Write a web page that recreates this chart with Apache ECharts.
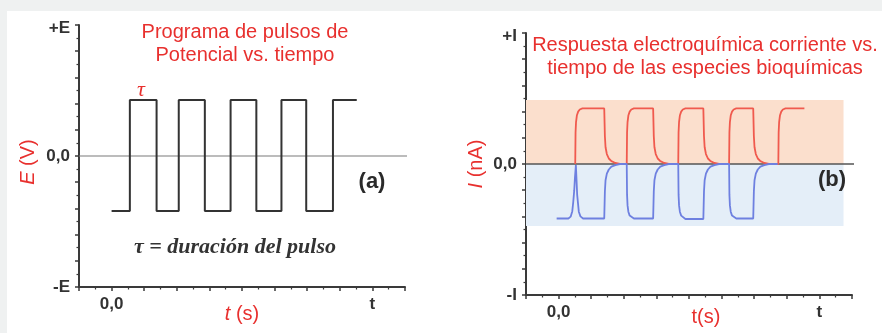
<!DOCTYPE html>
<html>
<head>
<meta charset="utf-8">
<script src="https://cdn.jsdelivr.net/npm/echarts@6/dist/echarts.min.js"></script>
<style>
html, body { margin: 0; padding: 0; background: #eff1f1; }
#chart { width: 882px; height: 333px; }
</style>
</head>
<body>
<div id="chart"></div>
<script>
// ejes
var eTickVals = [5, 0, -5];
var eTickText = ['+E', '0,0', '-E'];
var iTickVals = [5, 0, -5];
var iTickText = ['+I', '0,0', '-I'];
var tTickVals = [0, 8];
var tTickText = ['0,0', 't'];

// (a) pulsos de potencial
var pulseWave = [
    [0, -2.1], [0.56, -2.1], [0.56, 2.14], [1.38, 2.14], [1.38, -2.1], [2.06, -2.1],
    [2.06, 2.14], [2.86, 2.14], [2.86, -2.1], [3.65, -2.1], [3.65, 2.14], [4.44, 2.14],
    [4.44, -2.1], [5.21, -2.1], [5.21, 2.14], [5.97, 2.14], [5.97, -2.1], [6.79, -2.1],
    [6.79, 2.14], [7.52, 2.14]
];
var zeroLineA = [[-1, 0], [9.15, 0]];

// (b) respuesta corriente
var redResponse = [
    [0.51, 0], [0.52, 1.2], [0.535, 1.6], [0.56, 1.85], [0.6, 2.0], [0.65, 2.08], [0.73, 2.12],
    [1.40, 2.12], [1.42, 1.06], [1.44, 0.64], [1.48, 0.38], [1.54, 0.21], [1.62, 0.11], [1.74, 0.04], [1.88, 0],
    [2.09, 0], [2.10, 1.2], [2.115, 1.6], [2.14, 1.85], [2.18, 2.0], [2.23, 2.08], [2.31, 2.12],
    [2.90, 2.12], [2.92, 1.06], [2.94, 0.64], [2.98, 0.38], [3.04, 0.21], [3.12, 0.11], [3.24, 0.04], [3.38, 0],
    [3.67, 0], [3.68, 1.2], [3.695, 1.6], [3.72, 1.85], [3.76, 2.0], [3.81, 2.08], [3.89, 2.12],
    [4.44, 2.12], [4.46, 1.06], [4.48, 0.64], [4.52, 0.38], [4.58, 0.21], [4.66, 0.11], [4.78, 0.04], [4.92, 0],
    [5.23, 0], [5.24, 1.2], [5.255, 1.6], [5.28, 1.85], [5.32, 2.0], [5.37, 2.08], [5.45, 2.12],
    [5.97, 2.12], [5.99, 1.06], [6.01, 0.64], [6.05, 0.38], [6.11, 0.21], [6.19, 0.11], [6.31, 0.04], [6.45, 0],
    [6.74, 0], [6.75, 1.2], [6.765, 1.6], [6.79, 1.85], [6.83, 2.0], [6.88, 2.08], [6.96, 2.12],
    [7.54, 2.12]
];
var blueResponse = [
    [-0.06, -2.08], [0.30, -2.08], [0.37, -2.01], [0.42, -1.8], [0.45, -1.44], [0.48, -1.0],
    [0.50, -0.55], [0.53, -0.04], [0.55, -0.6], [0.57, -1.18], [0.62, -1.82], [0.67, -2.0], [0.75, -2.08],
    [1.40, -2.08], [1.42, -1.04], [1.44, -0.62], [1.48, -0.37], [1.54, -0.21], [1.62, -0.1], [1.74, -0.04], [1.88, 0],
    [2.09, 0], [2.10, -1.18], [2.115, -1.58], [2.14, -1.82], [2.18, -1.97], [2.23, -2.04], [2.31, -2.08],
    [2.90, -2.08], [2.92, -1.04], [2.94, -0.62], [2.98, -0.37], [3.04, -0.21], [3.12, -0.1], [3.24, -0.04], [3.38, 0],
    [3.67, 0], [3.68, -1.18], [3.695, -1.58], [3.72, -1.82], [3.76, -1.97], [3.81, -2.04], [3.89, -2.1],
    [4.44, -2.1], [4.46, -1.04], [4.48, -0.62], [4.52, -0.37], [4.58, -0.21], [4.66, -0.1], [4.78, -0.04], [4.92, 0],
    [5.23, 0], [5.24, -1.18], [5.255, -1.58], [5.28, -1.82], [5.32, -1.97], [5.37, -2.04], [5.45, -2.08],
    [5.97, -2.08], [5.99, -1.04], [6.01, -0.62], [6.05, -0.37], [6.11, -0.21], [6.19, -0.1], [6.31, -0.04], [6.45, 0],
    [6.72, 0]
];
var zeroLineB = [[-1, 0], [9.1, 0]];
var bandEnd = 8.74;
var bandTop = 2.44;
var bandBottom = -2.37;

var RED = '#e8302e';
var AXIS = '#3a3a3a';
var sans = 'Liberation Sans, Arial, sans-serif';
var serif = 'Liberation Serif, Times New Roman, serif';

function pick(vals, texts, topVal) {
    return function (v) {
        var k = vals.indexOf(v);
        if (k < 0) return '';
        return v === topVal ? '{top|' + texts[k] + '}' : texts[k];
    };
}

function axisBase(min, max, vals, texts, topVal, margin) {
    return {
        type: 'value',
        min: min,
        max: max,
        interval: 1,
        nameMoveOverlap: false,
        axisLine: { show: true, onZero: false, lineStyle: { color: AXIS, width: 2 } },
        axisTick: { show: true, length: 4, lineStyle: { color: AXIS, width: 1.5 } },
        minorTick: { show: true, splitNumber: 2, length: 2.5, lineStyle: { color: AXIS, width: 1.2 } },
        splitLine: { show: false },
        axisLabel: {
            formatter: pick(vals, texts, topVal),
            color: '#333',
            fontFamily: sans,
            fontWeight: 'bold',
            fontSize: 17,
            margin: margin,
            rich: { top: { color: '#333', fontFamily: sans, fontWeight: 'bold', fontSize: 17, padding: [7, 0, 0, 0] } }
        }
    };
}

var xA = axisBase(-1, 9, tTickVals, tTickText, null, 9);
xA.gridIndex = 0;
xA.name = '{i|t} (s)';
xA.nameLocation = 'middle';
xA.nameGap = 17;
xA.nameTextStyle = { color: RED, fontFamily: sans, fontSize: 20, rich: { i: { fontStyle: 'italic', color: RED, fontFamily: sans, fontSize: 20 } } };

var xB = axisBase(-1, 9, tTickVals, tTickText, null, 9);
xB.gridIndex = 1;
xB.name = 't(s)';
xB.nameLocation = 'middle';
xB.nameGap = 12;
xB.nameTextStyle = { color: RED, fontFamily: sans, fontSize: 20, padding: [0, 0, 0, 34] };

var yA = axisBase(-5, 5, eTickVals, eTickText, 5, 9);
yA.gridIndex = 0;
yA.name = '{i|E} (V)';
yA.nameLocation = 'middle';
yA.nameGap = 41;
yA.nameTextStyle = { color: RED, fontFamily: sans, fontSize: 20, padding: [0, 12, 0, 0], rich: { i: { fontStyle: 'italic', color: RED, fontFamily: sans, fontSize: 20 } } };

var yB = axisBase(-5, 5, iTickVals, iTickText, 5, 9);
yB.gridIndex = 1;
yB.name = '{i|I} (nA)';
yB.nameLocation = 'middle';
yB.nameGap = 40;
yB.nameTextStyle = { color: RED, fontFamily: sans, fontSize: 20, rich: { i: { fontStyle: 'italic', color: RED, fontFamily: sans, fontSize: 20 } } };

var myChart = echarts.init(document.getElementById('chart'), null, { renderer: 'canvas' });
var option = {
    backgroundColor: '#eff1f1',
    animation: false,
    grid: [
        { left: 79, right: 477, top: 25, bottom: 46, outerBoundsMode: 'none' },
        { left: 526, right: 30, top: 33, bottom: 38, outerBoundsMode: 'none' }
    ],
    xAxis: [xA, xB],
    yAxis: [yA, yB],
    graphic: [
        { type: 'rect', z: -10, silent: true, shape: { x: 7, y: 11, width: 875, height: 322 }, style: { fill: '#ffffff' } },
        { type: 'text', z: 100, x: 245, y: 44, style: { text: 'Programa de pulsos de\nPotencial vs. tiempo', font: '20px ' + sans, fill: RED, align: 'center', verticalAlign: 'middle', lineHeight: 23 } },
        { type: 'text', z: 100, x: 705, y: 57, style: { text: 'Respuesta electroquímica corriente vs.\ntiempo de las especies bioquímicas', font: '20px ' + sans, fill: RED, align: 'center', verticalAlign: 'middle', lineHeight: 23 } },
        { type: 'text', z: 100, x: 141, y: 90, style: { text: 'τ', font: 'italic 22px ' + serif, fill: RED, align: 'center', verticalAlign: 'middle' } },
        { type: 'text', z: 100, x: 235, y: 247, style: { text: 'τ = duración del pulso', font: 'italic bold 22px ' + serif, fill: '#333', align: 'center', verticalAlign: 'middle' } },
        { type: 'text', z: 100, x: 372, y: 182, style: { text: '(a)', font: 'bold 22px ' + sans, fill: '#2a2a2a', align: 'center', verticalAlign: 'middle' } },
        { type: 'text', z: 100, x: 832, y: 180, style: { text: '(b)', font: 'bold 22px ' + sans, fill: '#2a2a2a', align: 'center', verticalAlign: 'middle' } }
    ],
    series: [
        {
            type: 'line', xAxisIndex: 0, yAxisIndex: 0, data: zeroLineA, symbol: 'none', silent: true, clip: false,
            lineStyle: { color: '#7a7a7a', width: 1.2 }
        },
        {
            type: 'line', xAxisIndex: 0, yAxisIndex: 0, data: pulseWave, symbol: 'none', silent: true,
            lineStyle: { color: '#333', width: 2 }
        },
        {
            type: 'line', xAxisIndex: 1, yAxisIndex: 1, data: zeroLineB, symbol: 'none', silent: true, clip: false,
            lineStyle: { color: '#555', width: 1.6 },
            markArea: {
                silent: true,
                data: [
                    [{ coord: [-1, bandTop], itemStyle: { color: '#fbdfcd' } }, { coord: [bandEnd, 0] }],
                    [{ coord: [-1, 0], itemStyle: { color: '#e4eef8' } }, { coord: [bandEnd, bandBottom] }]
                ]
            }
        },
        {
            type: 'line', xAxisIndex: 1, yAxisIndex: 1, data: redResponse, symbol: 'none', silent: true,
            lineStyle: { color: '#f05a4e', width: 1.8 }
        },
        {
            type: 'line', xAxisIndex: 1, yAxisIndex: 1, data: blueResponse, symbol: 'none', silent: true,
            lineStyle: { color: '#6e80e0', width: 1.8 }
        }
    ]
};
myChart.setOption(option);
</script>
</body>
</html>
